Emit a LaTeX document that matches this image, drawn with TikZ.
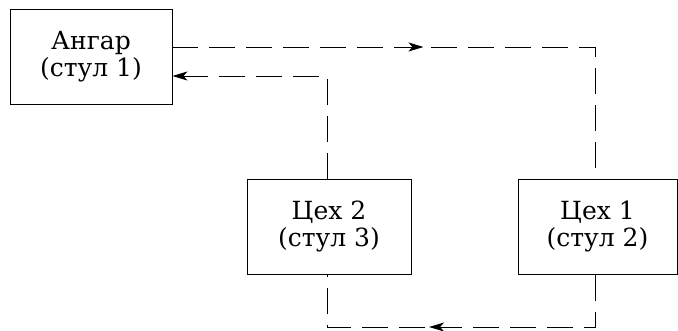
\documentclass[tikz,border=0pt]{standalone}
\usepackage{fontspec}
\setmainfont{DejaVu Serif}
\usetikzlibrary{arrows.meta,decorations.markings}
\begin{document}
\begin{tikzpicture}[x=1pt,y=-1pt,
  box/.style={draw,line width=0.9pt,minimum width=162pt,minimum height=95pt,inner sep=0pt,align=center,
    font=\fontsize{25}{27}\selectfont},
  flow/.style={line width=0.9pt,dash pattern=on 26pt off 11pt},
  tipA/.style={postaction={decorate},decoration={markings,
    mark=at position #1 with {\arrow{Stealth[length=15pt,width=9pt,inset=4pt]}}}}
]
\useasboundingbox (0,0) rectangle (678,331);
\node[box] (ang) at (91,57) {Ангар\\(стул 1)};
\node[box,minimum width=164pt] (c2) at (329,227) {Цех 2\\(стул 3)};
\node[box,minimum width=159pt] (c1) at (597.5,227) {Цех 1\\(стул 2)};
\coordinate (tr) at (595,47);
\coordinate (tl) at (327,76);
\coordinate (br) at (595,327);
\coordinate (bl) at (327,327);
% Ангар -> Цех 1
\draw[flow,tipA=251pt] (tr -| ang.east) -- (tr) -- (tr |- c1.north);
% Цех 2 -> Ангар
\draw[flow,-{Stealth[length=15pt,width=9pt,inset=4pt]}] (tl |- c2.north) -- (tl) -- (tl -| ang.east);
% Цех 1 -> Цех 2
\draw[flow,tipA=218pt] (br |- c1.south) -- (br) -- (bl) -- (bl |- c2.south);
\end{tikzpicture}
\end{document}
